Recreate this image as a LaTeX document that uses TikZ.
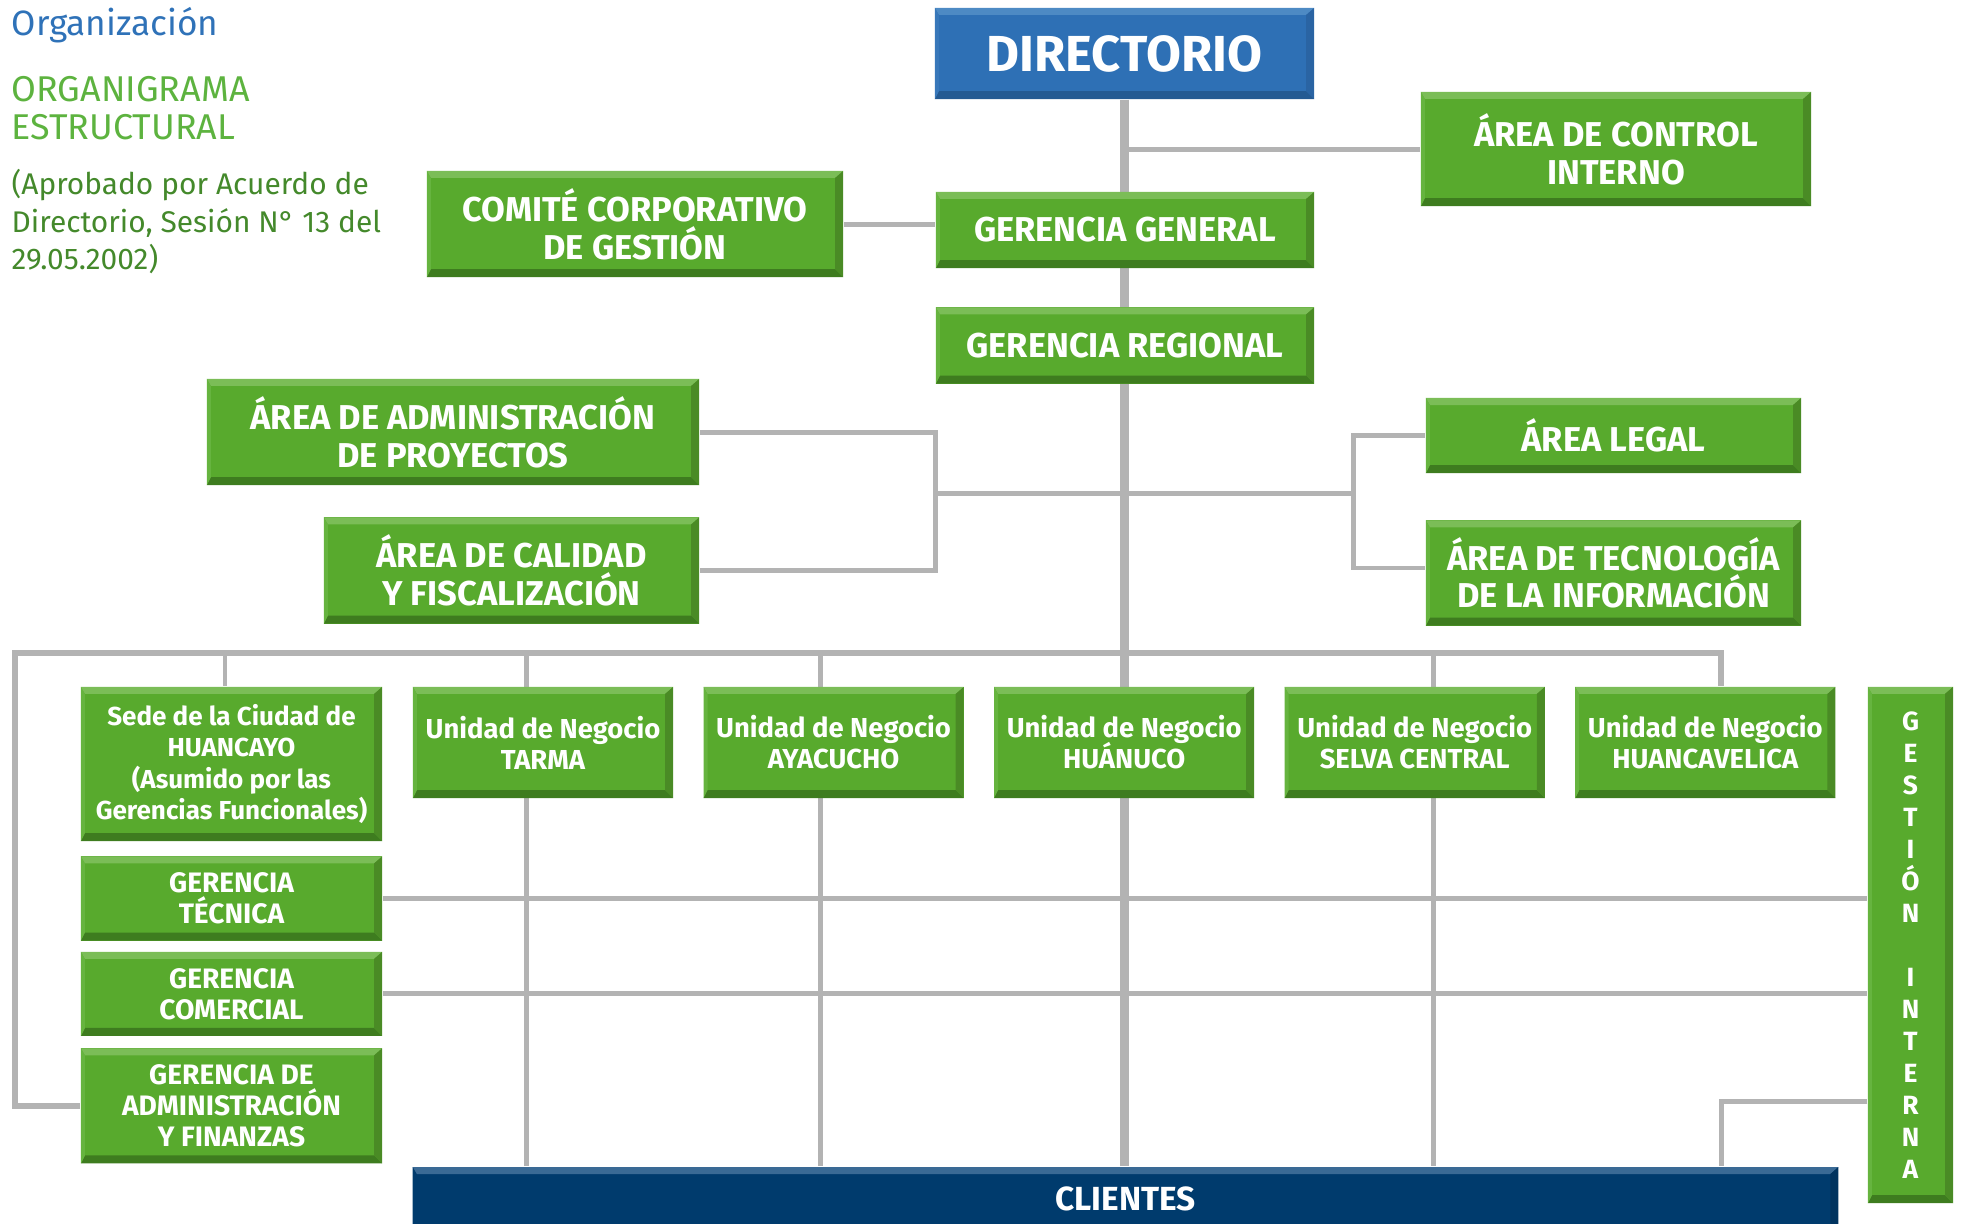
\documentclass[tikz,border=0pt]{standalone}
\usepackage{fontspec}
\setmainfont{Fira Sans}
\usepackage{xcolor}
\usepackage{tikz}
\usetikzlibrary{positioning,calc,backgrounds}
\definecolor{gface}{HTML}{58AA2D}
\definecolor{gtop}{HTML}{7BBD57}
\definecolor{gbot}{HTML}{3E7C1F}
\definecolor{gleft}{HTML}{66B43F}
\definecolor{gright}{HTML}{4A8B25}
\definecolor{bface}{HTML}{2E70B5}
\definecolor{btop}{HTML}{4D8AC4}
\definecolor{bbot}{HTML}{245A92}
\definecolor{bleft}{HTML}{3878BA}
\definecolor{bright}{HTML}{2A64A3}
\definecolor{nface}{HTML}{003B6D}
\definecolor{ntop}{HTML}{3A6A95}
\definecolor{nside}{HTML}{00335F}
\definecolor{lgray}{HTML}{B3B3B3}
\definecolor{tblue}{HTML}{2F72B8}
\definecolor{tgreen}{HTML}{5DB33F}
\definecolor{tdgreen}{HTML}{44892B}
\newcommand{\tightlines}{\lineskiplimit=-10pt\lineskip=0pt}
\tikzset{
  bevel/.style n args={4}{path picture={
    \fill[#1] (path picture bounding box.north west) -- (path picture bounding box.north east) -- ++(-0.8mm,-0.7mm) -- ($(path picture bounding box.north west)+(0.4mm,-0.7mm)$) -- cycle;
    \fill[#2] (path picture bounding box.south west) -- (path picture bounding box.south east) -- ++(-0.8mm,0.8mm) -- ($(path picture bounding box.south west)+(0.4mm,0.8mm)$) -- cycle;
    \fill[#3] (path picture bounding box.north west) -- (path picture bounding box.south west) -- ++(0.4mm,0.8mm) -- ($(path picture bounding box.north west)+(0.4mm,-0.7mm)$) -- cycle;
    \fill[#4] (path picture bounding box.north east) -- (path picture bounding box.south east) -- ++(-0.8mm,0.8mm) -- ($(path picture bounding box.north east)+(-0.8mm,-0.7mm)$) -- cycle;
  }},
  gbox/.style={fill=gface, bevel={gtop}{gbot}{gleft}{gright}, text=white, align=center, inner sep=0pt, font=\bfseries\fontsize{9.8}{10.7}\selectfont\tightlines},
  bbox/.style={gbox, fill=bface, bevel={btop}{bbot}{bleft}{bright}, font=\bfseries\fontsize{14.4}{16}\selectfont},
  nbox/.style={gbox, fill=nface, bevel={ntop}{nface}{nface}{nside}, font=\bfseries\fontsize{9.5}{11}\selectfont},
  ubox/.style={gbox, font=\bfseries\fontsize{7.8}{8.8}\selectfont\tightlines, minimum width=26mm, minimum height=11.1mm},
  lbox/.style={gbox, font=\bfseries\fontsize{8}{8.8}\selectfont\tightlines, minimum width=30.1mm},
  ttl/.style={anchor=base west, inner sep=0pt},
  conn/.style={draw=lgray, line width=1.42pt},
  bus/.style={draw=lgray, line width=1.9pt},
  trunk/.style={draw=lgray, line width=2.3pt}
}
\begin{document}
\begin{tikzpicture}[x=0.01cm, y=-0.01cm]
\useasboundingbox (0,0) rectangle (1963,1223);
\node[ttl, text=tblue, font=\fontsize{10}{11}\selectfont] (t1) at (11,35) {Organización};
\node[ttl, text=tgreen, font=\fontsize{10.2}{11}\selectfont] (t2) at (11,101) {ORGANIGRAMA};
\node[ttl, text=tgreen, font=\fontsize{10.2}{11}\selectfont] (t3) at (11,139) {ESTRUCTURAL};
\node[ttl, text=tdgreen, font=\fontsize{8.5}{10}\selectfont] (t4) at (11,194) {(Aprobado por Acuerdo de};
\node[ttl, text=tdgreen, font=\fontsize{8.5}{10}\selectfont] (t5) at (11,232) {Directorio, Sesión N° 13 del};
\node[ttl, text=tdgreen, font=\fontsize{8.5}{10}\selectfont] (t6) at (11,269) {29.05.2002)};
\node[bbox, minimum width=37.9mm, minimum height=9.1mm] (a1) at (1124.5,53.5) {DIRECTORIO};
\node[gbox, minimum width=39mm, minimum height=11.4mm] (a2) at (1616,149) {ÁREA DE CONTROL\\INTERNO};
\node[gbox, minimum width=37.8mm, minimum height=7.6mm] (a3) at (1125,230) {GERENCIA GENERAL};
\node[gbox, minimum width=41.6mm, minimum height=10.6mm] (a4) at (635,224) {COMITÉ CORPORATIVO\\DE GESTIÓN};
\node[gbox, minimum width=37.8mm, minimum height=7.6mm, below=3.8mm of a3] (a5) {GERENCIA REGIONAL};
\node[gbox, minimum width=49.2mm, minimum height=10.6mm] (a6) at (453,432) {ÁREA DE ADMINISTRACIÓN\\DE PROYECTOS};
\node[gbox, minimum width=37.5mm, minimum height=10.6mm, below left=3.1mm and 0mm of a6.south east] (a7) {ÁREA DE CALIDAD\\Y FISCALIZACIÓN};
\node[gbox, minimum width=37.5mm, minimum height=7.5mm] (a8) at (1613.5,435.5) {ÁREA LEGAL};
\node[gbox, minimum width=37.5mm, minimum height=10.5mm, below=4.6mm of a8] (a9) {ÁREA DE TECNOLOGÍA\\DE LA INFORMACIÓN};
\node[lbox, minimum height=15.4mm, font=\bfseries\fontsize{7.4}{8.9}\selectfont\tightlines] (b1) at (231.5,764) {Sede de la Ciudad de\\HUANCAYO\\(Asumido por las\\Gerencias Funcionales)};
\node[lbox, minimum height=8.4mm, below=1.4mm of b1] (b2) {GERENCIA\\TÉCNICA};
\node[lbox, minimum height=8.4mm, below=1.0mm of b2] (b3) {GERENCIA\\COMERCIAL};
\node[lbox, minimum height=11.5mm, below=1.1mm of b3] (b4) {GERENCIA DE\\ADMINISTRACIÓN\\Y FINANZAS};
\node[ubox] (c1) at (543,742.5) {Unidad de Negocio\\TARMA};
\node[ubox, right=2.9mm of c1] (c2) {Unidad de Negocio\\AYACUCHO};
\node[ubox, right=2.9mm of c2] (c3) {Unidad de Negocio\\HUÁNUCO};
\node[ubox, right=2.9mm of c3] (c4) {Unidad de Negocio\\SELVA CENTRAL};
\node[ubox, right=2.9mm of c4] (c5) {Unidad de Negocio\\HUANCAVELICA};
\node[gbox, minimum width=8.5mm, minimum height=51.6mm, font=\bfseries\fontsize{7.5}{9.1}\selectfont\tightlines] (d1) at (1910.5,945) {G\\E\\S\\T\\I\\Ó\\N\\[9.1pt]I\\N\\T\\E\\R\\N\\A};
\node[nbox, minimum width=142.5mm, minimum height=6.4mm] (d2) at (1125.5,1199) {CLIENTES};
\begin{scope}[on background layer]
\coordinate (p1) at (935,493); \coordinate (p2) at (1353,493);
\coordinate (q1) at (15,653); \coordinate (q2) at (1721,653);
\coordinate (k1) at (225,653); \coordinate (k2) at (526,653); \coordinate (k3) at (820,653); \coordinate (k4) at (1433,653);
\coordinate (k5) at (1721,1101);
\draw[trunk] (a1.south) -- (a1.south |- d2.north);
\draw[conn] (a2.west) -- (a2.west -| a1.south); \draw[conn] (a4.east) -- (a4.east -| a3.west);
\draw[conn] (a6.east) -| (p1) |- (a7.east); \draw[conn] (a8.west) -| (p2) |- ([yshift=0.5mm]a9.west);
\draw[conn] (p1) -- (p2);
\draw[bus] (b4.west) -| (q1) -- (q2) -- (q2 |- c5.north);
\draw[conn] (k1) -- (k1 |- b1.north);
\draw[conn] (k2) -- (k2 |- d2.north); \draw[conn] (k3) -- (k3 |- d2.north); \draw[conn] (k4) -- (k4 |- d2.north);
\draw[conn] (b2.east) -- (b2.east -| d1.west); \draw[conn] (b3.east) -- (b3.east -| d1.west);
\draw[conn] (k5 -| d1.west) -| (k5 |- d2.north);
\end{scope}
\end{tikzpicture}
\end{document}
